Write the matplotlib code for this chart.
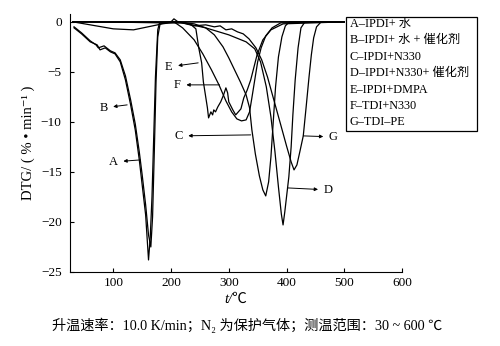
import matplotlib
matplotlib.use("Agg")
import matplotlib.pyplot as plt
from matplotlib.patches import Rectangle

plt.rcParams['font.family'] = ['Liberation Serif', 'Noto Sans CJK SC', 'DejaVu Sans']

# DTG curves, temperature in degC and rate in %/min
t_A = [32, 45, 60, 72, 77, 86, 95, 103, 112, 121, 130, 138, 145, 150, 156, 161, 164, 167, 170, 173, 177, 180, 200, 300, 400, 500]
v_A = [-0.6, -1.2, -2.0, -2.3, -2.8, -2.6, -3.0, -3.2, -4.0, -5.8, -8.3, -10.8, -13.8, -16.3, -19.3, -23.8, -21.5, -17.5, -11.5, -5.5, -0.8, -0.1, 0, 0, 0, 0]

t_B = [32, 45, 60, 70, 74, 84, 95, 103, 112, 121, 130, 138, 145, 150, 156, 161, 165, 168, 171, 174, 177, 181, 200, 300, 400, 500]
v_B = [-0.5, -1.1, -1.9, -2.3, -2.6, -2.4, -2.9, -3.1, -3.8, -5.4, -7.8, -10.2, -13.0, -15.3, -18.3, -21.3, -22.5, -19.5, -13.0, -6.0, -1.5, -0.2, 0, 0, 0, 0]

t_C = [30, 70, 100, 135, 160, 185, 210, 240, 260, 275, 290, 300, 310, 320, 330, 336, 340, 346, 353, 359, 364, 369, 373, 377, 381, 386, 392, 398, 405, 500]
v_C = [0, -0.4, -0.7, -0.8, -0.5, -0.2, 0, -0.2, -0.6, -1.3, -2.5, -3.6, -4.8, -6.0, -7.3, -8.6, -10.8, -13.2, -15.4, -16.8, -17.4, -16.0, -13.5, -10.0, -6.5, -3.5, -1.5, -0.4, 0, 0]

t_D = [30, 220, 260, 300, 330, 345, 355, 365, 373, 380, 386, 391, 394, 397, 401, 404, 408, 411, 415, 420, 425, 432, 500]
v_D = [0, -0.1, -0.6, -1.3, -2.0, -2.7, -4.0, -6.5, -9.5, -13.0, -16.5, -19.2, -20.3, -19.0, -17.0, -15.5, -12.5, -9.3, -5.8, -2.6, -0.6, 0, 0]

t_E = [30, 225, 235, 243, 248, 253, 256, 263, 265, 269, 272, 274, 277, 281, 286, 291, 295, 298, 300, 307, 312, 321, 326, 332, 338, 349, 359, 373, 394, 500]
v_E = [0, -0.1, -0.3, -0.7, -2.6, -4.1, -6.0, -8.6, -9.6, -9.0, -9.3, -8.8, -9.0, -8.5, -8.0, -7.3, -6.6, -7.1, -8.0, -8.8, -9.3, -8.7, -7.6, -6.8, -5.8, -3.3, -1.8, -0.8, -0.2, 0]

t_F = [30, 205, 220, 240, 255, 270, 283, 295, 305, 314, 322, 330, 336, 340, 345, 350, 356, 364, 375, 390, 500]
v_F = [0, 0, -0.6, -1.8, -3.2, -4.8, -6.3, -7.9, -9.0, -9.7, -9.9, -9.8, -9.0, -7.6, -5.8, -4.0, -2.6, -1.4, -0.6, -0.1, 0]

t_G = [30, 200, 205, 212, 240, 260, 275, 285, 295, 305, 315, 325, 335, 347, 357, 367, 378, 390, 400, 408, 413, 418, 423, 429, 434, 439, 443, 447, 452, 460, 500]
v_G = [0, 0, 0.3, 0, -0.4, -0.3, -0.5, -0.4, -0.8, -0.7, -1.0, -1.2, -1.7, -2.6, -3.8, -5.5, -7.8, -10.3, -12.4, -14.0, -14.8, -14.3, -13.0, -11.4, -8.5, -5.5, -3.3, -1.6, -0.5, 0, 0]

curves = [(t_A, v_A), (t_B, v_B), (t_C, v_C), (t_D, v_D), (t_E, v_E), (t_F, v_F), (t_G, v_G)]

# letter, label position, point on curve
labels = [
    ('A', (100, -14.0), (147, -13.8)),
    ('B', (83, -8.6), (124, -8.3)),
    ('C', (213, -11.4), (338, -11.3)),
    ('D', (472, -16.8), (402, -16.6)),
    ('E', (196, -4.5), (247, -4.1)),
    ('F', (211, -6.3), (284, -6.3)),
    ('G', (481, -11.5), (429, -11.4)),
]

legend_lines = ['A–IPDI+ 水', 'B–IPDI+ 水 + 催化剂', 'C–IPDI+N330', 'D–IPDI+N330+ 催化剂',
                'E–IPDI+DMPA', 'F–TDI+N330', 'G–TDI–PE']

fig = plt.figure(figsize=(5.0, 3.46), dpi=100)
ax = fig.add_axes([0.14, 0.214, 0.664, 0.746])

for t, v in curves:
    ax.plot(t, v, color='black', lw=0.9)

for name, lab, pt in labels:
    ax.annotate(name, xy=pt, xytext=lab, fontsize=9, ha='center', va='center',
                arrowprops=dict(arrowstyle='<|-', color='black', lw=0.7,
                                mutation_scale=5, shrinkA=2, shrinkB=0))

ax.set_xlim(25, 600)
ax.set_ylim(-25, 0.8)
ax.set_xticks([100, 200, 300, 400, 500, 600])
ax.set_yticks([0, -5, -10, -15, -20, -25])
ax.spines['top'].set_visible(False)
ax.spines['right'].set_visible(False)
ax.tick_params(direction='in', length=3, labelsize=9.5, width=0.8)
ax.tick_params(axis='y', pad=6)
ax.set_xlabel('t/℃', fontsize=10.5, style='italic', labelpad=3)
ax.set_ylabel('DTG/ ( % • min⁻¹ )', fontsize=10.5, labelpad=4)

# boxed key at the right
fig.add_artist(Rectangle((346 / 500, 1 - 131 / 346), 131 / 500, 114 / 346,
                         transform=fig.transFigure, fill=False, lw=0.9, ec='black'))
for i, s in enumerate(legend_lines):
    fig.text(350 / 500, 1 - (24 + i * 16.4) / 346, s, fontsize=8.8, va='center', ha='left')

fig.text(0.495, 1 - 325 / 346, '升温速率：10.0 K/min；N₂ 为保护气体；测温范围：30 ~ 600 ℃',
         fontsize=10.2, ha='center', va='center')

fig.savefig('out.png', dpi=100)
